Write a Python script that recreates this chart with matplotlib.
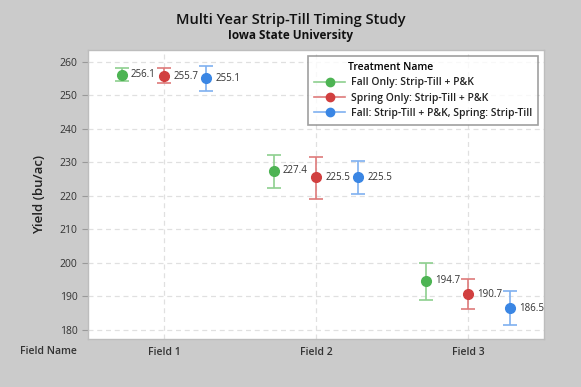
import matplotlib
matplotlib.use("Agg")
import matplotlib.pyplot as plt
from matplotlib.lines import Line2D
import numpy as np

plt.rcParams['font.family'] = ['Open Sans', 'DejaVu Sans']

fields = ["Field 1", "Field 2", "Field 3"]
treatments = ["Fall Only: Strip-Till + P&K",
              "Spring Only: Strip-Till + P&K",
              "Fall: Strip-Till + P&K, Spring: Strip-Till"]
means = {
    treatments[0]: [256.1, 227.4, 194.7],
    treatments[1]: [255.7, 225.5, 190.7],
    treatments[2]: [255.1, 225.5, 186.5],
}
lower = {
    treatments[0]: [254.3, 222.4, 189.0],
    treatments[1]: [253.5, 219.0, 186.1],
    treatments[2]: [251.4, 220.5, 181.4],
}
upper = {
    treatments[0]: [258.0, 232.2, 200.0],
    treatments[1]: [258.0, 231.7, 195.2],
    treatments[2]: [258.7, 230.3, 191.6],
}

colors = ["#4DB453", "#D13F3F", "#3A86E4"]
ecolors = ["#8ED08F", "#DE7A7A", "#7FB0F0"]
offsets = [-0.277, 0.0, 0.277]

fig = plt.figure(figsize=(5.81, 3.87), dpi=100)
fig.patch.set_facecolor("#CBCBCB")
ax = fig.add_axes([0.1515, 0.124, 0.785, 0.747])
ax.set_facecolor("white")

x = np.arange(1, len(fields) + 1)
for i, t in enumerate(treatments):
    m = np.array(means[t])
    lo = np.array(lower[t])
    hi = np.array(upper[t])
    xi = x + offsets[i]
    ax.errorbar(xi, m, yerr=[m - lo, hi - m], fmt="none", ecolor=ecolors[i],
                elinewidth=1.2, capsize=5, capthick=1.2, zorder=3)
    ax.plot(xi, m, "o", color=colors[i], markersize=7, zorder=4)
    for xx, mm in zip(xi, m):
        ax.annotate(f"{mm:.1f}", (xx, mm), xytext=(6.5, 0), textcoords="offset points",
                    va="center", ha="left", fontsize=7, color="#333333")

ax.set_xlim(0.5, 3.5)
ax.set_ylim(177.3, 263.5)
ax.set_xticks(x)
ax.set_xticklabels(fields, fontsize=7.5, color="#333333", fontweight="semibold")
ax.set_yticks(np.arange(180, 261, 10))
ax.tick_params(axis="y", labelsize=7.5, labelcolor="#333333", color="#999999", length=4)
ax.tick_params(axis="x", length=0, pad=6)
ax.grid(True, linestyle=(0, (4, 3)), color="#E0E0E0", linewidth=0.9)
ax.set_axisbelow(True)
for s in ax.spines.values():
    s.set_color("#BDBDBD")
    s.set_linewidth(1.0)

ax.set_ylabel("Yield (bu/ac)", fontsize=9.5, fontweight="semibold", color="#222222", labelpad=10)
fig.text(0.084, 1 - 351 / 387, "Field Name", fontsize=7.5, fontweight="semibold",
         color="#333333", ha="center", va="center")

fig.text(0.5, 1 - 20 / 387, "Multi Year Strip-Till Timing Study", fontsize=10.5,
         fontweight="semibold", color="#111111", ha="center", va="center")
fig.text(0.5, 1 - 36 / 387, "Iowa State University", fontsize=8.5,
         fontweight="bold", color="#111111", ha="center", va="center")

handles = [Line2D([0], [0], color=ecolors[i], marker="o", markerfacecolor=colors[i],
                  markeredgecolor=colors[i], markersize=6, linewidth=1.2)
           for i in range(3)]
leg = ax.legend(handles, treatments, title="Treatment Name", loc="upper right",
                bbox_to_anchor=(0.987, 0.979), borderaxespad=0, fontsize=7.5,
                title_fontsize=7.5, frameon=True, fancybox=False, edgecolor="#888888",
                handlelength=3.0, handletextpad=0.5, borderpad=0.6, labelspacing=0.4)
leg.get_title().set_fontweight("semibold")
leg.get_frame().set_linewidth(1.2)
leg._legend_box.align = "left"
leg.get_title().set_position((34, 0))
for txt in leg.get_texts():
    txt.set_fontweight("semibold")
    txt.set_color("#222222")

fig.savefig("out.png", dpi=100, facecolor=fig.get_facecolor())
